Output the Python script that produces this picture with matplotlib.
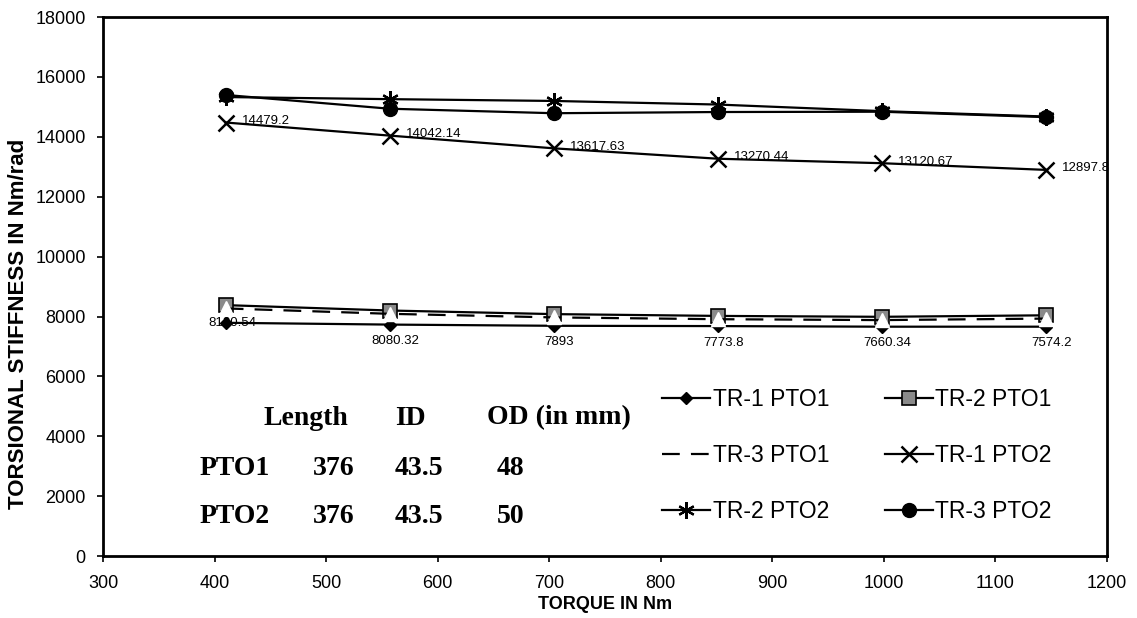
import matplotlib
matplotlib.use("Agg")
import matplotlib.pyplot as plt

torque = [410, 557, 704, 851, 998, 1145]

tr1_pto1 = [7790, 7730, 7690, 7680, 7660, 7660]
tr2_pto1 = [8380, 8200, 8080, 8020, 7990, 8040]
tr3_pto1 = [8270, 8090, 7970, 7910, 7880, 7930]
tr1_pto2 = [14479.2, 14042.14, 13617.63, 13270.44, 13120.67, 12897.8]
tr2_pto2 = [15330, 15260, 15200, 15080, 14860, 14680]
tr3_pto2 = [15400, 14940, 14790, 14830, 14840, 14660]

tr1_pto1_labels = ["8130.54", "8080.32", "7893", "7773.8", "7660.34", "7574.2"]
tr1_pto2_labels = ["14479.2", "14042.14", "13617.63", "13270.44", "13120.67", "12897.8"]

table_header = ["Length", "ID", "OD (in mm)"]
table_rows = [["PTO1", "376", "43.5", "48"], ["PTO2", "376", "43.5", "50"]]

plt.rcParams['font.family'] = ['Liberation Sans', 'DejaVu Sans']

fig = plt.figure(figsize=(11.37, 6.18), dpi=100)
ax = fig.add_axes([0.0906, 0.1003, 0.883, 0.872])

lw = 1.6
h_tr1p1, = ax.plot(torque, tr1_pto1, color='black', lw=lw, marker='D', ms=6.5, mfc='black', mec='black', label='TR-1 PTO1', zorder=3)
h_tr2p1, = ax.plot(torque, tr2_pto1, color='black', lw=lw, marker='s', ms=10, mfc='#8a8a8a', mec='black', mew=1.2, label='TR-2 PTO1', zorder=3)
h_tr3p1, = ax.plot(torque, tr3_pto1, color='black', lw=lw, ls=(0, (8, 5)), marker='^', ms=10, mfc='white', mec='white', label='TR-3 PTO1', zorder=4)
h_tr1p2, = ax.plot(torque, tr1_pto2, color='black', lw=lw, marker='x', ms=11, mew=1.8, label='TR-1 PTO2', zorder=3)
h_tr2p2, = ax.plot(torque, tr2_pto2, color='black', lw=lw, marker=(6, 2, 0), ms=12, mew=1.6, label='TR-2 PTO2', zorder=3)
h_tr3p2, = ax.plot(torque, tr3_pto2, color='black', lw=lw, marker='o', ms=10, mfc='black', label='TR-3 PTO2', zorder=4)

for i, (x, y, t) in enumerate(zip(torque, tr1_pto1, tr1_pto1_labels)):
    off = (5, 0) if i == 0 else (4, -12)
    ax.annotate(t, (x, y), xytext=off, textcoords='offset points', ha='center', va='center', fontsize=9.5, zorder=6)

for x, y, t in zip(torque, tr1_pto2, tr1_pto2_labels):
    ax.annotate(t, (x, y), xytext=(12, 1), textcoords='offset points', ha='left', va='center', fontsize=9.5, zorder=6)

ax.set_xlim(300, 1200)
ax.set_ylim(0, 18000)
ax.set_xticks(range(300, 1201, 100))
ax.set_yticks(range(0, 18001, 2000))
ax.tick_params(axis='both', direction='out', length=4.5, width=1.2, labelsize=13)
ax.tick_params(axis='y', pad=8)
ax.tick_params(axis='x', pad=9)
for s in ax.spines.values():
    s.set_linewidth(2)

ax.set_ylabel('TORSIONAL STIFFNESS IN Nm/rad', fontsize=16, fontweight='bold', labelpad=4)
ax.yaxis.set_label_coords(-0.074, 0.43)
ax.set_xlabel('TORQUE IN Nm', fontsize=13, fontweight='bold', labelpad=0)
ax.xaxis.set_label_coords(0.5, -0.074)

serif = ['Liberation Serif', 'DejaVu Serif']
tfs = 20
head_x = [0.1594, 0.2908, 0.3825]
head_y = 0.256
for hx, txt in zip(head_x, table_header):
    ax.text(hx, head_y, txt, transform=ax.transAxes, fontsize=tfs, fontweight='bold', family=serif, ha='left', va='center')
col_x = [0.0966, 0.2092, 0.2908, 0.3924]
row_y = [0.1633, 0.0724]
for r, row in enumerate(table_rows):
    for c, val in enumerate(row):
        ax.text(col_x[c], row_y[r], val, transform=ax.transAxes, fontsize=tfs, fontweight='bold', family=serif, ha='left', va='center')

handles = [h_tr1p1, h_tr3p1, h_tr2p2, h_tr2p1, h_tr1p2, h_tr3p2]
leg = ax.legend(handles=handles, labels=[h.get_label() for h in handles], ncol=2,
                loc='upper left', bbox_to_anchor=(0.557, 0.312), frameon=False, fontsize=16.5,
                handlelength=2.1, columnspacing=2.4, labelspacing=1.45, handletextpad=0.12,
                borderpad=0, borderaxespad=0)

fig.savefig('out.png', dpi=100)
